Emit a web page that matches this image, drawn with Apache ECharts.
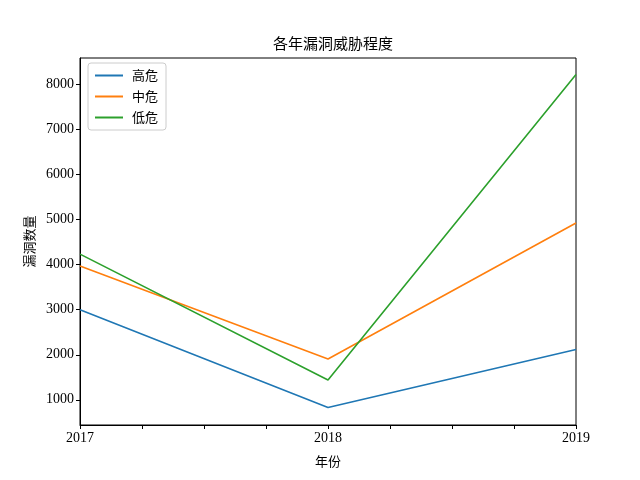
<!DOCTYPE html>
<html><head><meta charset="utf-8">
<script src="https://cdn.jsdelivr.net/npm/echarts@6/dist/echarts.min.js"></script>
<style>html,body{margin:0;padding:0;background:#fff}#c{width:640px;height:480px}</style>
</head><body><div id="c"></div>
<script>
var years = [2017, 2018, 2019];
var highRisk = [3000, 830, 2115];
var midRisk = [3970, 1905, 4925];
var lowRisk = [4235, 1440, 8225];
var seriesNames = ['高危', '中危', '低危'];
var yTicks = [1000, 2000, 3000, 4000, 5000, 6000, 7000, 8000];
var xTicks = [2017, 2017.25, 2017.5, 2017.75, 2018, 2018.25, 2018.5, 2018.75, 2019];
var xLabels = [2017, 2018, 2019];

function pairs(v){ return years.map(function(y,i){ return [y, v[i]]; }); }
function plain(v){ return String(v); }
var fontLatin = '"Liberation Serif", "Noto Sans CJK SC", serif';
var fontCJK = '"Noto Sans CJK SC", sans-serif';
var chart = echarts.init(document.getElementById('c'));
chart.setOption({
  animation: false,
  backgroundColor: '#fff',
  title: { text: '各年漏洞威胁程度', left: 328, top: 31, textAlign: 'center',
    textStyle: { fontFamily: fontCJK, fontSize: 15, fontWeight: 'normal', color: '#000' } },
  grid: { left: 80, right: 64, top: 58, bottom: 55, show: true, borderColor: '#000', borderWidth: 1, containLabel: false },
  legend: {
    left: 88, top: 63, orient: 'vertical', icon: 'rect', itemWidth: 28, itemHeight: 2, itemGap: 8,
    padding: [6, 8, 6, 7], borderColor: '#cccccc', borderWidth: 1, borderRadius: 3,
    backgroundColor: 'rgba(255,255,255,0.8)',
    textStyle: { fontFamily: fontCJK, fontSize: 13, color: '#000', padding: [0,0,0,4] },
    data: seriesNames
  },
  xAxis: {
    type: 'value', min: 2017, max: 2019,
    name: '年份', nameLocation: 'middle', nameGap: 30,
    nameTextStyle: { fontFamily: fontCJK, fontSize: 13, color: '#000' },
    axisLine: { lineStyle: { color: '#000' } },
    axisTick: { show: true, length: 4, inside: false, customValues: xTicks, lineStyle: { color: '#000' } },
    axisLabel: { customValues: xLabels, formatter: plain, fontFamily: fontLatin, fontSize: 14, color: '#000', margin: 6 },
    splitLine: { show: false }
  },
  yAxis: {
    type: 'value', min: 440, max: 8590,
    name: '漏洞数量', nameLocation: 'middle', nameGap: 40, nameRotate: 90,
    nameTextStyle: { fontFamily: fontCJK, fontSize: 13, color: '#000' },
    axisLine: { show: true, lineStyle: { color: '#000' } },
    axisTick: { show: true, length: 4, customValues: yTicks, lineStyle: { color: '#000' } },
    axisLabel: { customValues: yTicks, formatter: plain, fontFamily: fontLatin, fontSize: 14, color: '#000', margin: 6 },
    splitLine: { show: false }
  },
  series: [
    { name: seriesNames[0], type: 'line', data: pairs(highRisk), showSymbol: false, symbol: 'none', color: '#1f77b4', lineStyle: { width: 1.6 } },
    { name: seriesNames[1], type: 'line', data: pairs(midRisk), showSymbol: false, symbol: 'none', color: '#ff7f0e', lineStyle: { width: 1.6 } },
    { name: seriesNames[2], type: 'line', data: pairs(lowRisk), showSymbol: false, symbol: 'none', color: '#2ca02c', lineStyle: { width: 1.6 } }
  ]
});
</script></body></html>
